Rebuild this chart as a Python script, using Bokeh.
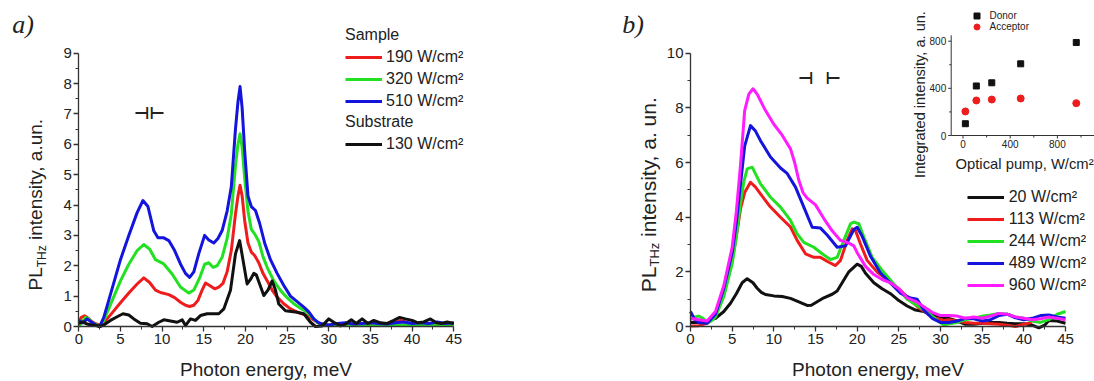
import math
from bokeh.plotting import figure
from bokeh.layouts import row
from bokeh.models import Range1d, Label, Legend, LegendItem, FixedTicker
from bokeh.core.properties import value
from bokeh.embed import file_html
from bokeh.resources import INLINE

# ---------------- data: panel a ----------------
a_labels = ["190 W/cm²", "320 W/cm²", "510 W/cm²"]
a_sub_label = "130 W/cm²"

a_x_190 = [0, 0.3, 0.7, 1.1, 1.6, 2.1, 2.6, 3, 4, 5, 6, 7, 7.8, 8.5, 9.2, 9.8, 10.8, 11.5, 12.2, 12.8, 13.3, 13.8,
           14.3, 14.8, 15.2, 15.7, 16.3, 16.8, 17.3, 17.8, 18.3, 18.8, 19.1, 19.35, 19.6, 19.9, 20.3, 20.7, 21.1, 21.6,
           22.1, 22.6, 23.2, 23.8, 24.6, 25.4, 26.4, 27.4, 28, 28.6, 29.3, 30, 31, 32, 33, 34, 35, 36, 37, 38, 38.6,
           39.2, 39.8, 41, 42, 43, 44, 45]
a_y_190 = [0.15, 0.3, 0.35, 0.28, 0.15, 0.08, 0.05, 0.12, 0.45, 0.78, 1.1, 1.4, 1.6, 1.45, 1.2, 1.12, 1.05, 0.95, 0.8,
           0.7, 0.66, 0.7, 0.86, 1.2, 1.43, 1.35, 1.24, 1.3, 1.42, 1.8, 2.5, 3.7, 4.3, 4.65, 4.3, 3.5, 2.75, 2.45,
           2.34, 2.1, 1.75, 1.51, 1.2, 0.97, 0.75, 0.58, 0.45, 0.36, 0.25, 0.14, 0.06, 0.04, 0.04, 0.03, 0.05, 0.04,
           0.05, 0.04, 0.06, 0.12, 0.2, 0.15, 0.08, 0.05, 0.04, 0.05, 0.04, 0.05]

a_x_320 = [0, 0.4, 0.8, 1.2, 1.7, 2.2, 2.6, 3, 4, 5, 6, 7, 7.8, 8.5, 9.2, 10.2, 11.2, 12.2, 13.2, 13.8, 14.5, 15.1,
           15.6, 16.1, 16.6, 17.2, 17.8, 18.3, 18.8, 19.1, 19.35, 19.6, 19.9, 20.3, 20.7, 21.1, 21.6, 22.1, 22.6,
           23.4, 24.2, 25, 25.8, 26.6, 27.4, 28, 28.6, 29.3, 30, 31, 32, 33, 34, 35, 36, 37, 38, 39, 40, 41, 42, 43,
           44, 45]
a_y_320 = [0.0, 0.15, 0.3, 0.25, 0.1, 0.05, 0.0, 0.2, 0.85, 1.5, 2.05, 2.5, 2.7, 2.55, 2.2, 2.06, 1.73, 1.3, 1.1, 1.2,
           1.6, 2.05, 2.1, 1.95, 2.0, 2.28, 2.9, 3.7, 5.3, 6.0, 6.35, 5.9, 4.9, 3.8, 3.2, 3.05, 2.8, 2.3, 1.95, 1.5,
           1.19, 0.95, 0.75, 0.6, 0.47, 0.3, 0.14, 0.06, 0.04, 0.05, 0.04, 0.08, 0.05, 0.06, 0.05, 0.04, 0.06, 0.05,
           0.04, 0.05, 0.06, 0.05, 0.04, 0.05]

a_x_510 = [0, 0.5, 1.0, 1.5, 2.0, 2.5, 3, 4, 5, 6, 7, 7.7, 8.3, 9, 9.5, 10.2, 10.8, 11.5, 12.2, 12.8, 13.3, 13.8, 14.4,
           15.1, 15.6, 16.2, 16.7, 17.2, 17.8, 18.3, 18.8, 19.1, 19.35, 19.6, 19.9, 20.3, 20.7, 21.2, 21.7, 22.3, 23,
           23.8, 24.6, 25.4, 26.2, 27, 27.6, 28.2, 28.8, 29.4, 30, 31, 32, 33, 34, 35, 36, 37, 38, 39, 40, 41, 42,
           43, 44, 45]
a_y_510 = [0.2, 0.12, 0.25, 0.15, 0.05, 0.0, 0.3, 1.25, 2.2, 3.0, 3.75, 4.15, 3.95, 3.15, 2.92, 2.92, 2.83, 2.5, 2.06,
           1.75, 1.62, 1.8, 2.4, 3.0, 2.85, 2.75, 2.9, 3.16, 3.8, 4.6, 6.5, 7.4, 7.9, 7.2, 5.8, 4.3, 3.95, 3.82, 3.4,
           2.75, 2.2, 1.75, 1.35, 1.0, 0.82, 0.64, 0.48, 0.25, 0.12, 0.07, 0.05, 0.1, 0.12, 0.08, 0.1, 0.12, 0.1,
           0.08, 0.12, 0.15, 0.1, 0.12, 0.1, 0.15, 0.1, 0.12]

a_x_sub = [0, 0.5, 1, 1.5, 2, 2.5, 3, 3.8, 4.6, 5.3, 6, 6.6, 7.4, 8.2, 8.8, 9.6, 10.2, 11, 11.8, 12.4, 12.8, 13.4, 14,
           14.6, 15.4, 16.2, 16.8, 17.4, 18.2, 18.8, 19.3, 19.7, 20.2, 20.6, 21.0, 21.3, 21.7, 22.2, 22.7, 23.2, 23.6,
           24.0, 24.8, 26.2, 27.0, 27.8, 28.4, 29.2, 30.0, 30.6, 31.4, 32.0, 32.7, 33.3, 34.0, 34.7, 35.4, 36.2,
           37.0, 37.8, 38.5, 39.2, 40.0, 40.7, 41.4, 42.2, 42.9, 43.5, 44.2, 45]
a_y_sub = [0.1, 0.15, 0.08, 0.05, 0.04, 0.0, 0.05, 0.2, 0.32, 0.42, 0.38, 0.25, 0.11, 0.09, 0.0, 0.14, 0.22, 0.18,
           0.14, 0.22, 0.03, 0.25, 0.2, 0.36, 0.42, 0.42, 0.42, 0.58, 1.19, 2.39, 2.83, 2.2, 1.4, 1.55, 1.75, 1.7,
           1.4, 1.02, 1.2, 1.5, 1.2, 0.74, 0.52, 0.47, 0.42, 0.14, 0.0, 0.02, 0.25, 0.14, 0.02, 0.08, 0.22, 0.1,
           0.25, 0.1, 0.2, 0.12, 0.1, 0.2, 0.3, 0.25, 0.2, 0.12, 0.15, 0.25, 0.12, 0.1, 0.15, 0.1]

a_xticks = [0, 5, 10, 15, 20, 25, 30, 35, 40, 45]
a_xminor = [2.5, 7.5, 12.5, 17.5, 22.5, 27.5, 32.5, 37.5, 42.5]
a_yticks = [0, 1, 2, 3, 4, 5, 6, 7, 8, 9]
a_yminor = [0.5, 1.5, 2.5, 3.5, 4.5, 5.5, 6.5, 7.5, 8.5]

# ---------------- data: panel b ----------------
b_labels = ["20 W/cm²", "113 W/cm²", "244 W/cm²", "489 W/cm²", "960 W/cm²"]

b_x_20 = [0, 1, 2, 3, 4, 4.8, 5.5, 6.2, 6.8, 7.5, 8, 8.5, 9, 10, 11, 12, 13, 14, 14.5, 15, 16, 17, 17.6, 18.2, 19,
          20, 20.5, 21, 22, 23, 24, 25, 26, 27, 28, 29, 30, 31, 32, 33, 34, 35, 36, 37, 38, 39, 40, 41, 41.8, 42.5,
          43, 44, 45]
b_y_20 = [0.15, 0.15, 0.2, 0.3, 0.55, 0.85, 1.2, 1.6, 1.75, 1.6, 1.4, 1.25, 1.17, 1.12, 1.1, 1.03, 0.9, 0.77, 0.78,
          0.87, 1.05, 1.18, 1.3, 1.6, 2.0, 2.28, 2.2, 1.95, 1.6, 1.38, 1.2, 0.95, 0.75, 0.6, 0.55, 0.45, 0.35, 0.3,
          0.2, 0.08, 0.08, 0.12, 0.15, 0.15, 0.12, 0.1, 0.1, 0.05, -0.05, 0.05, 0.22, 0.2, 0.12]

b_x_113 = [0, 1, 2, 3, 4, 5, 5.5, 6, 6.5, 7.2, 7.8, 8.4, 9.6, 10.8, 12, 12.8, 13.8, 14.8, 15.6, 16.6, 17.4, 18, 18.8,
           19.4, 19.8, 20.4, 21.2, 22.4, 24, 25.2, 26.4, 27.6, 29.2, 30.4, 31, 32, 33, 34, 35, 36, 37, 38, 39, 40, 41]
b_y_113 = [0.02, 0.03, 0.12, 0.4, 1.2, 2.4, 3.3, 4.3, 4.9, 5.28, 5.1, 4.85, 4.37, 4.0, 3.64, 3.15, 2.66, 2.53, 2.53,
           2.35, 2.23, 2.42, 3.15, 3.57, 3.51, 3.02, 2.42, 1.99, 1.63, 1.32, 0.95, 0.64, 0.32, 0.22, 0.25, 0.2, 0.15,
           0.12, 0.12, 0.1, 0.08, 0.05, 0.0, 0.08, 0.15]

b_x_244 = [0, 0.5, 1, 1.5, 2, 2.5, 3, 4, 5, 5.5, 6, 6.4, 6.8, 7.4, 8.4, 9.6, 10.8, 12, 12.8, 13.6, 14.8, 15.8, 16.8,
           17.6, 18.4, 19.2, 19.6, 20.2, 20.8, 21.8, 23, 24.4, 26, 27.2, 28.4, 29.6, 30.4, 31, 32, 33, 34, 35, 36,
           37, 38, 39, 40, 41, 42, 43, 44, 45]
b_y_244 = [0.25, 0.35, 0.38, 0.3, 0.12, 0.2, 0.35, 1.1, 2.3, 3.3, 4.5, 5.3, 5.77, 5.83, 5.22, 4.73, 4.37, 3.88, 3.39,
           3.08, 2.9, 2.66, 2.45, 2.53, 3.15, 3.76, 3.82, 3.76, 3.27, 2.53, 2.05, 1.56, 1.0, 0.77, 0.53, 0.22, 0.05,
           0.1, 0.15, 0.25, 0.3, 0.38, 0.42, 0.48, 0.45, 0.35, 0.3, 0.2, 0.15, 0.25, 0.45, 0.55]

b_x_489 = [0, 0.5, 1, 2, 3, 4, 5, 5.5, 6, 6.5, 7.2, 7.8, 8.4, 9.6, 10.8, 11.6, 12.6, 13.6, 14.6, 15.6, 16.4, 17.6,
           18.6, 19.6, 20.0, 20.6, 21.6, 22.8, 23.6, 25.2, 26.4, 27.2, 28, 29, 30, 31, 32, 33, 34, 35, 36, 37, 38,
           39, 40, 41, 42, 43, 44, 45]
b_y_489 = [0.55, 0.25, 0.15, 0.12, 0.45, 1.4, 2.7, 3.8, 5.2, 6.6, 7.35, 7.15, 6.8, 6.2, 5.8, 5.6, 5.1, 4.37, 3.63,
           3.6, 3.35, 2.9, 2.95, 3.55, 3.63, 3.3, 2.57, 1.96, 1.71, 1.22, 1.04, 1.0, 0.6, 0.3, 0.15, 0.15, 0.2, 0.3,
           0.28, 0.2, 0.25, 0.4, 0.45, 0.32, 0.25, 0.3, 0.4, 0.42, 0.35, 0.3]

b_x_960 = [0, 1, 2, 3, 4, 5, 5.5, 6, 6.5, 7, 7.5, 8, 9, 10, 11, 12, 12.5, 13, 13.5, 14, 15, 16, 17, 18, 19, 19.6,
           20, 21, 22, 23, 24, 25, 26, 27, 28, 29, 30, 31, 32, 33, 34, 35, 36, 37, 38, 39, 40, 41, 42, 43, 44, 45]
b_y_960 = [0.3, 0.25, 0.2, 0.55, 1.5, 2.9, 4.2, 5.9, 7.9, 8.5, 8.7, 8.5, 7.9, 7.4, 7.0, 6.5, 6.0, 5.35, 4.9, 4.7,
           4.45, 3.95, 3.5, 3.15, 3.05, 2.95, 2.7, 2.2, 1.9, 1.72, 1.6, 1.38, 1.05, 0.92, 0.72, 0.52, 0.4, 0.4, 0.38,
           0.3, 0.35, 0.3, 0.38, 0.48, 0.45, 0.35, 0.3, 0.25, 0.28, 0.35, 0.3, 0.25]

b_xticks = [0, 5, 10, 15, 20, 25, 30, 35, 40, 45]
b_xminor = [2.5, 7.5, 12.5, 17.5, 22.5, 27.5, 32.5, 37.5, 42.5]
b_yticks = [0, 2, 4, 6, 8, 10]
b_yminor = [1, 3, 5, 7, 9]

# ---------------- data: inset ----------------
pump = [20, 113, 244, 489, 960]
donor = [100, 420, 447, 608, 789]
acceptor = [204, 297, 305, 314, 274]
inset_ticks = [0, 400, 800]
inset_xminor = [200, 600, 1000]
inset_yminor = [200, 600]

# ---------------- styles / layout ----------------
TEXT = "#222222"
AXIS = "#333333"
RED, GREEN, BLUE, MAG, BLACK = "#ee1c1c", "#22e022", "#1414dd", "#ff1cff", "#111111"
FONT = "Liberation Sans"
H = 381
WA, WB = 600, 494

A_X0, A_Y0 = 78.3, 326.0
AX = 375.0 / 45.0
AY = 273.3 / 9.0
def pa_xy(X, Y):
    return (X - A_X0) / AX, (A_Y0 - Y) / AY

B_X0, B_Y0 = 690.0, 326.0
BX = 375.0 / 45.0
BY = 273.3 / 10.0
def pb_xy(X, Y):
    return (X - B_X0) / BX, (B_Y0 - Y) / BY

I_X0, I_XS = 962.5, 0.118
I_Y0, I_YS = 135.0, 0.1179
def in_xy(X, Y):
    return (X - I_X0) / I_XS, (I_Y0 - Y) / I_YS


def style_axis(ax, bounds, ticks, minor, size="15px"):
    ax.fixed_location = 0
    ax.bounds = bounds
    ax.ticker = FixedTicker(ticks=ticks, minor_ticks=minor)
    ax.axis_line_color = AXIS
    ax.axis_line_width = 1.3
    ax.major_tick_line_color = AXIS
    ax.major_tick_line_width = 1.3
    ax.minor_tick_line_color = AXIS
    ax.minor_tick_line_width = 1.0
    ax.major_tick_in = 0
    ax.major_tick_out = 5
    ax.minor_tick_in = 0
    ax.minor_tick_out = 3
    ax.major_label_text_font = FONT
    ax.major_label_text_font_size = size
    ax.major_label_text_color = TEXT
    ax.major_label_standoff = 2


def base_fig(width, xy_fn, left_px):
    x0, y0 = xy_fn(left_px, H)
    x1, y1 = xy_fn(left_px + width, 0)
    p = figure(width=width, height=H, output_backend="svg", toolbar_location=None,
               x_range=Range1d(x0, x1), y_range=Range1d(y0, y1),
               min_border=0, min_border_left=0, min_border_right=0, min_border_top=0, min_border_bottom=0)
    p.xgrid.visible = False
    p.ygrid.visible = False
    p.outline_line_color = None
    p.background_fill_color = "white"
    p.border_fill_color = "white"
    return p


def lbl(p, xy, text, size, angle=0.0, align="left", baseline="middle", font=FONT, style="normal"):
    p.add_layout(Label(x=xy[0], y=xy[1], text=text, text_font=font, text_font_size=size,
                       text_font_style=style, text_color=TEXT, angle=angle,
                       text_align=align, text_baseline=baseline))


def make_legend(items, loc, title=None, gw=37, gh=20, lh=20, spacing=2, standoff=4, size="16px"):
    kw = dict(items=items, location=loc, orientation="vertical", glyph_width=gw, glyph_height=gh,
              label_height=lh, label_standoff=standoff, spacing=spacing, padding=0, margin=0,
              border_line_color=None, background_fill_alpha=0,
              label_text_font=FONT, label_text_font_size=size, label_text_color=TEXT)
    if title is not None:
        kw.update(title=title, title_text_font=FONT, title_text_font_size=size,
                  title_text_font_style="normal", title_text_color=TEXT, title_standoff=3)
    return Legend(**kw)


lw = 3
UP = math.pi / 2

# ================= panel a =================
pa = base_fig(WA, pa_xy, 0)
style_axis(pa.xaxis[0], (0, 45), a_xticks, a_xminor)
style_axis(pa.yaxis[0], (0, 9), a_yticks, a_yminor)

r190 = pa.line(a_x_190, a_y_190, line_color=RED, line_width=lw, line_join="round")
r320 = pa.line(a_x_320, a_y_320, line_color=GREEN, line_width=lw, line_join="round")
r510 = pa.line(a_x_510, a_y_510, line_color=BLUE, line_width=lw, line_join="round")
rsub = pa.line(a_x_sub, a_y_sub, line_color=BLACK, line_width=lw, line_join="round")

pa.add_layout(make_legend([LegendItem(label=a_labels[0], renderers=[r190]),
                           LegendItem(label=a_labels[1], renderers=[r320]),
                           LegendItem(label=a_labels[2], renderers=[r510])],
                          (345, H - 111), title="Sample"))
pa.add_layout(make_legend([LegendItem(label=a_sub_label, renderers=[rsub])],
                          (345, H - 153.6), title="Substrate"))

sx, sy = pa_xy(149, 112)
pa.text(x=[sx], y=[sy], text=["⊣⊢"], text_font=value("DejaVu Sans"), text_font_size="17px",
        text_font_style="bold", text_align="center", text_baseline="middle", text_color=TEXT)

lbl(pa, pa_xy(11.7, 24), "a)", "26px", font="Liberation Serif", style="italic")
lbl(pa, pa_xy(265.5, 369), "Photon energy, meV", "19px", align="center")
lbl(pa, pa_xy(35.0, 290.0), "PL", "19px", angle=UP)
lbl(pa, pa_xy(41.0, 266.8), "THz", "12px", angle=UP)
lbl(pa, pa_xy(35.0, 239.5), "intensity, a.un.", "19px", angle=UP)

# ================= panel b =================
pb = base_fig(WB, pb_xy, WA)
style_axis(pb.xaxis[0], (0, 45), b_xticks, b_xminor)
style_axis(pb.yaxis[0], (0, 10), b_yticks, b_yminor)

q20 = pb.line(b_x_20, b_y_20, line_color=BLACK, line_width=lw, line_join="round")
q113 = pb.line(b_x_113, b_y_113, line_color=RED, line_width=lw, line_join="round")
q244 = pb.line(b_x_244, b_y_244, line_color=GREEN, line_width=lw, line_join="round")
q489 = pb.line(b_x_489, b_y_489, line_color=BLUE, line_width=lw, line_join="round")
q960 = pb.line(b_x_960, b_y_960, line_color=MAG, line_width=lw, line_join="round")

pb.add_layout(make_legend([LegendItem(label=b_labels[i], renderers=[r])
                           for i, r in enumerate([q20, q113, q244, q489, q960])],
                          (966.7 - WA, H - 295.0), standoff=5))

sb = pb_xy(819, 77)
pb.text(x=[sb[0]], y=[sb[1]], text=["⊣\u00a0\u00a0⊢"], text_font=value("DejaVu Sans"), text_font_size="17px",
        text_font_style="bold", text_align="center", text_baseline="middle", text_color=TEXT)

lbl(pb, pb_xy(621.7, 23.5), "b)", "26px", font="Liberation Serif", style="italic")
lbl(pb, pb_xy(877.5, 369), "Photon energy, meV", "19px", align="center")
lbl(pb, pb_xy(647.7, 291.7), "PL", "21px", angle=UP)
lbl(pb, pb_xy(654.0, 266.0), "THz", "13px", angle=UP)
lbl(pb, pb_xy(647.7, 236.4), "intensity, a. un.", "21px", angle=UP)

# ---------------- inset (own scales on panel b) ----------------
ix0, iy0 = in_xy(WA, H)
ix1, iy1 = in_xy(WA + WB, 0)
pb.extra_x_ranges = {"ix": Range1d(ix0, ix1)}
pb.extra_y_ranges = {"iy": Range1d(iy0, iy1)}
IR = dict(x_range_name="ix", y_range_name="iy")

ax_left = -100
ax_top = 850
tk = 3.0
pb.segment(x0=[ax_left, ax_left], y0=[0, 0], x1=[ax_left, ix1], y1=[ax_top, 0],
           line_color=AXIS, line_width=1.0, **IR)
pb.segment(x0=[ax_left] * len(inset_ticks), y0=inset_ticks,
           x1=[ax_left - tk / I_XS] * len(inset_ticks), y1=inset_ticks, line_color=AXIS, line_width=1.0, **IR)
pb.segment(x0=[ax_left] * len(inset_yminor), y0=inset_yminor,
           x1=[ax_left - 2 / I_XS] * len(inset_yminor), y1=inset_yminor, line_color=AXIS, line_width=1.0, **IR)
pb.segment(x0=inset_ticks, y0=[0] * len(inset_ticks), x1=inset_ticks,
           y1=[-tk / I_YS] * len(inset_ticks), line_color=AXIS, line_width=1.0, **IR)
pb.segment(x0=inset_xminor, y0=[0] * len(inset_xminor), x1=inset_xminor,
           y1=[-2 / I_YS] * len(inset_xminor), line_color=AXIS, line_width=1.0, **IR)
pb.text(x=[ax_left - 5 / I_XS] * len(inset_ticks), y=inset_ticks, text=[str(t) for t in inset_ticks],
        text_font=value(FONT), text_font_size="10px", text_align="right", text_baseline="middle",
        text_color=TEXT, **IR)
pb.text(x=inset_ticks, y=[-8.5 / I_YS] * len(inset_ticks), text=[str(t) for t in inset_ticks],
        text_font=value(FONT), text_font_size="10px", text_align="center", text_baseline="middle",
        text_color=TEXT, **IR)
yl = in_xy(919.5, 94.0)
pb.text(x=[yl[0]], y=[yl[1]], text=["Integrated intensity, a. un."], angle=UP,
        text_font=value(FONT), text_font_size="14.6px", text_align="center", text_baseline="middle",
        text_color=TEXT, **IR)
xl = in_xy(955.0, 163.0)
pb.text(x=[xl[0]], y=[xl[1]], text=["Optical pump, W/cm²"], text_font=value(FONT), text_font_size="14.8px",
        text_align="left", text_baseline="middle", text_color=TEXT, **IR)

rd = pb.scatter(pump, donor, marker="square", size=6, fill_color=BLACK, line_color=BLACK, **IR)
ra = pb.scatter(pump, acceptor, marker="circle", size=7, fill_color=RED, line_color=RED, **IR)

pb.add_layout(make_legend([LegendItem(label="Donor", renderers=[rd])], (968.5 - WA, H - 22.5),
                          gw=15, gh=15, lh=15, spacing=0, standoff=6, size="10px"))
pb.add_layout(make_legend([LegendItem(label="Acceptor", renderers=[ra])], (968.5 - WA, H - 34.2),
                          gw=15, gh=15, lh=15, spacing=0, standoff=6, size="10px"))

layout = row(pa, pb)
open("out.html", "w").write(file_html(layout, INLINE))
